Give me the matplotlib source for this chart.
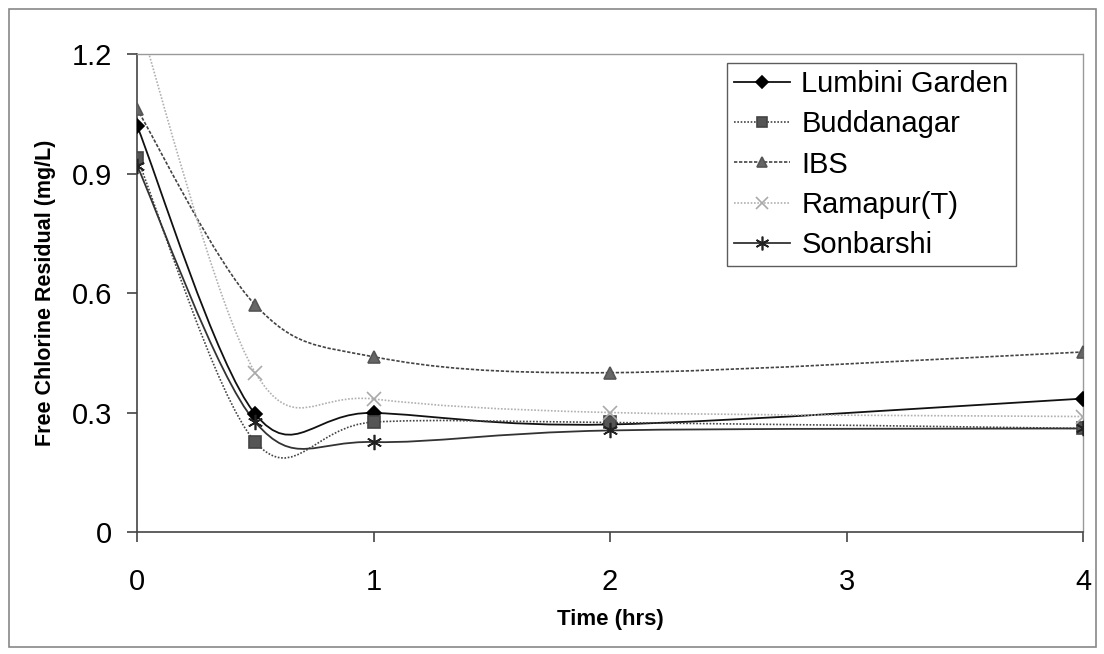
import numpy as np
import matplotlib
matplotlib.use("Agg")
import matplotlib.pyplot as plt
from matplotlib.path import Path
from matplotlib.patches import PathPatch, Rectangle
from matplotlib.lines import Line2D

plt.rcParams['font.family'] = ['Liberation Sans', 'DejaVu Sans']

# time (hrs) and free chlorine residual (mg/L)
time = [0, 0.5, 1, 2, 4]
lumbini = [1.02, 0.296, 0.299, 0.27, 0.335]
buddanagar = [0.94, 0.226, 0.276, 0.275, 0.26]
ibs = [1.062, 0.57, 0.44, 0.40, 0.452]
ramapur = [1.30, 0.40, 0.334, 0.30, 0.29]
sonbarshi = [0.92, 0.276, 0.226, 0.255, 0.26]

names = ["Lumbini Garden", "Buddanagar", "IBS", "Ramapur(T)", "Sonbarshi"]
series = [lumbini, buddanagar, ibs, ramapur, sonbarshi]
styles = [
    dict(color="#111111", ls="-", lw=1.3, marker="D", ms=7, mfc="#000000", mec="#000000"),
    dict(color="#444444", ls=(0, (1, 1)), lw=1.2, marker="s", ms=8, mfc="#555555", mec="#444444"),
    dict(color="#444444", ls=(0, (2, 1)), lw=1.2, marker="^", ms=8, mfc="#666666", mec="#555555"),
    dict(color="#b0b0b0", ls=(0, (1, 1)), lw=1.2, marker="x", ms=10, mfc="none", mec="#aaaaaa"),
    dict(color="#333333", ls="-", lw=1.3, marker=(6, 2, 0), ms=11, mfc="none", mec="#222222"),
]


def smooth_path(xs, ys):
    # Excel style smoothed line: cubic bezier through the points
    pts = np.column_stack([xs, ys]).astype(float)
    n = len(pts)
    verts = [pts[0]]
    codes = [Path.MOVETO]
    for i in range(n - 1):
        p_prev = pts[i - 1] if i > 0 else pts[i]
        p_next2 = pts[i + 2] if i + 2 < n else pts[i + 1]
        c1 = pts[i] + (pts[i + 1] - p_prev) / 6.0
        c2 = pts[i + 1] - (p_next2 - pts[i]) / 6.0
        verts += [c1, c2, pts[i + 1]]
        codes += [Path.CURVE4] * 3
    return Path(verts, codes)


fig = plt.figure(figsize=(11.04, 6.54), dpi=100)
ax = fig.add_axes([0.1241, 0.1865, 0.981 - 0.1241, 0.9174 - 0.1865])

handles = []
for name, ys, st in zip(names, series, styles):
    patch = PathPatch(smooth_path(time, ys), fill=False, edgecolor=st["color"],
                      linestyle=st["ls"], linewidth=st["lw"], transform=ax.transData)
    ax.add_patch(patch)
    ax.plot(time, ys, ls="none", marker=st["marker"], ms=st["ms"], mfc=st["mfc"],
            mec=st["mec"], mew=1.2, zorder=3)
    handles.append(Line2D([], [], color=st["color"], ls=st["ls"], lw=st["lw"],
                          marker=st["marker"], ms=st["ms"] * 0.9, mfc=st["mfc"],
                          mec=st["mec"], mew=1.2, label=name))

ax.set_xlim(0, 4)
ax.set_ylim(0, 1.2)
ax.set_xticks([0, 1, 2, 3, 4])
ax.set_yticks([0, 0.3, 0.6, 0.9, 1.2])
ax.set_yticklabels(["0", "0.3", "0.6", "0.9", "1.2"])
ax.tick_params(axis="both", direction="out", length=7, width=1.2, color="#444444",
               labelsize=21)
ax.tick_params(axis="y", pad=11)
ax.tick_params(axis="x", pad=19)

for side in ["left", "bottom"]:
    ax.spines[side].set_color("#444444")
    ax.spines[side].set_linewidth(1.2)
for side in ["top", "right"]:
    ax.spines[side].set_color("#999999")
    ax.spines[side].set_linestyle((0, (1, 1)))
    ax.spines[side].set_linewidth(1.0)

ax.set_xlabel("Time (hrs)", fontsize=16, fontweight="bold", labelpad=9)
ax.set_ylabel("Free Chlorine Residual (mg/L)", fontsize=15.5, fontweight="bold",
              labelpad=11)

leg = fig.legend(handles=handles, loc="upper left", bbox_to_anchor=(0.6585, 0.904),
                 fontsize=21, frameon=True, fancybox=False, handlelength=1.9,
                 labelspacing=0.42, borderpad=0.25, handletextpad=0.4,
                 borderaxespad=0)
leg.get_frame().set_edgecolor("#333333")
leg.get_frame().set_linewidth(1.0)

# outer chart border
fig.patches.append(Rectangle((0.008, 0.01), 0.985, 0.977, transform=fig.transFigure,
                             fill=False, edgecolor="#888888", linewidth=1.2))

fig.savefig("out.png", dpi=100)
